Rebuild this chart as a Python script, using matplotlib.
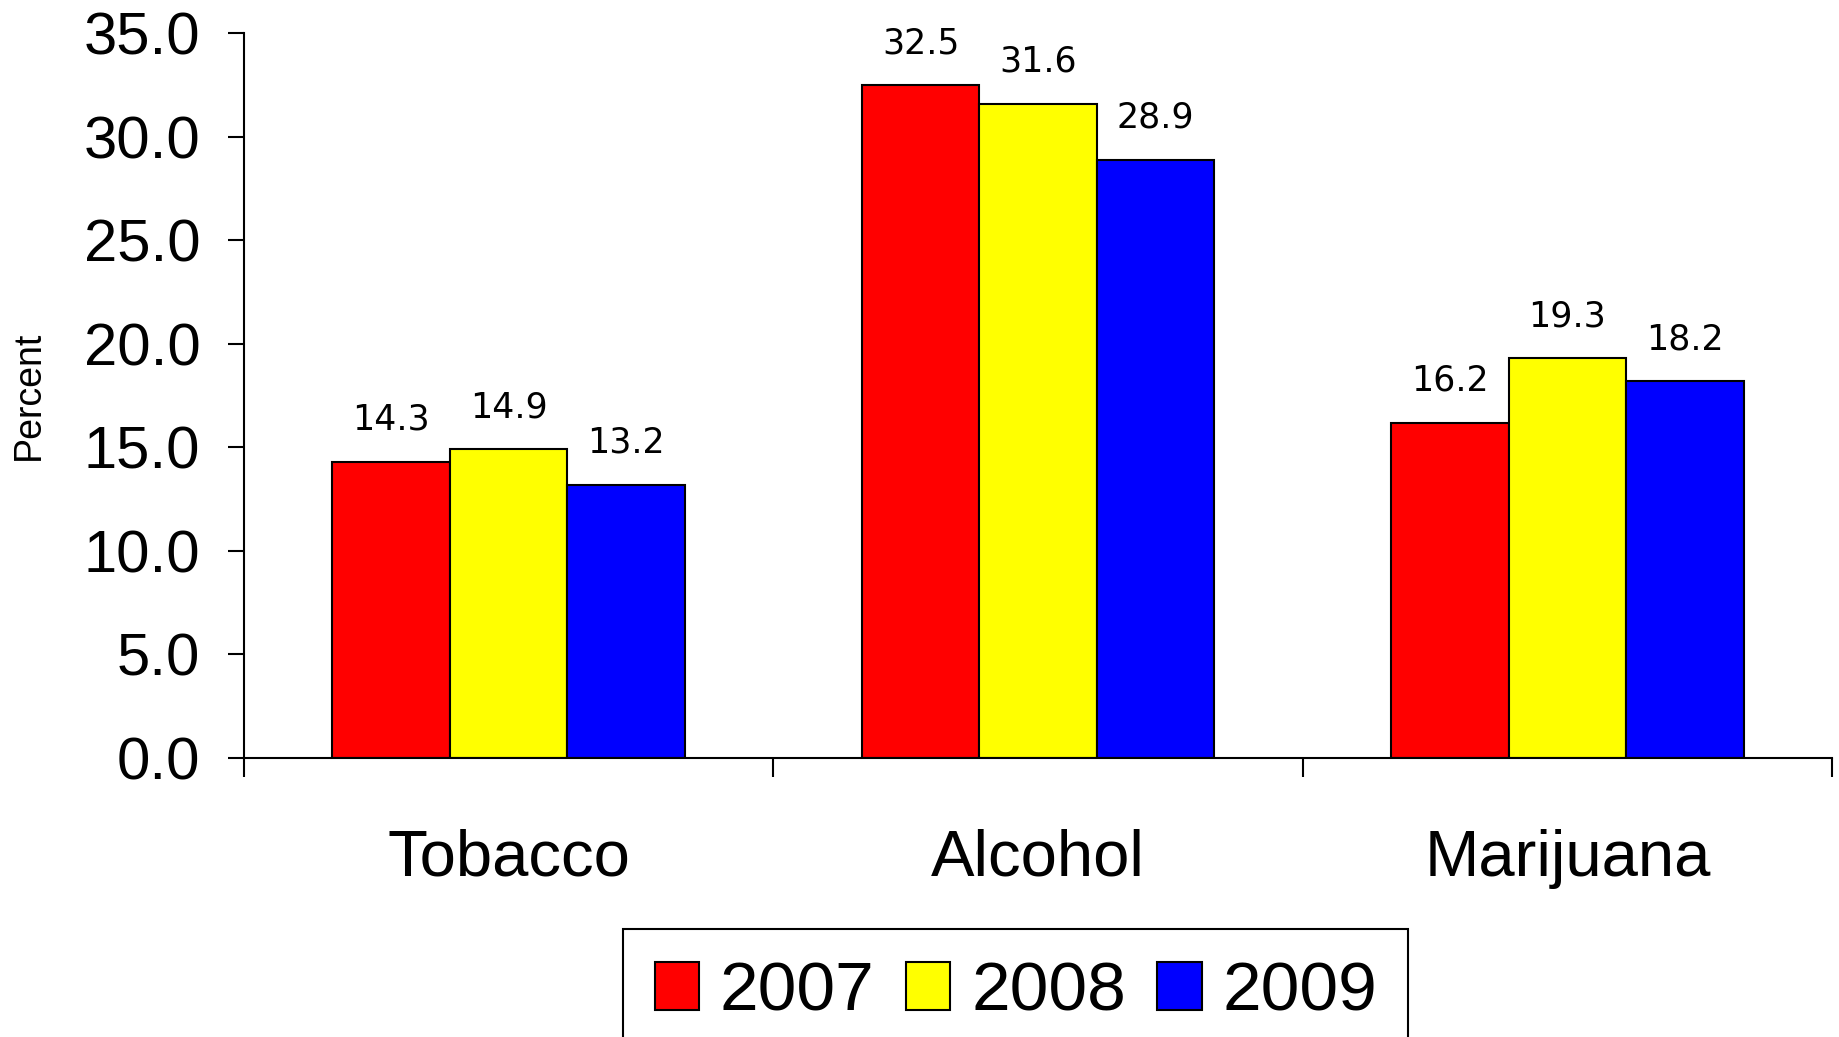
import matplotlib.pyplot as plt
import numpy as np

categories = ['Tobacco', 'Alcohol', 'Marijuana']
years = ['2007', '2008', '2009']
v2007 = [14.3, 32.5, 16.2]
v2008 = [14.9, 31.6, 19.3]
v2009 = [13.2, 28.9, 18.2]
colors = ['#ff0000', '#ffff00', '#0000ff']

fig = plt.figure(figsize=(18.39, 10.37), dpi=100)
ax = fig.add_axes([0.1327, 0.269, 0.8635, 0.699])

x = np.arange(len(categories))
w = 0.222
for i, (vals, yr, c) in enumerate(zip([v2007, v2008, v2009], years, colors)):
    bars = ax.bar(x + (i - 1) * w, vals, w, color=c, edgecolor='black',
                  linewidth=1.5, label=yr, zorder=2)
    for b, v in zip(bars, vals):
        ax.annotate('%.1f' % v, (b.get_x() + b.get_width() / 2, v),
                    xytext=(0, 23), textcoords='offset points',
                    ha='center', va='baseline', fontsize=25,
                    family='DejaVu Sans')

ax.set_xlim(-0.5, 2.5)
ax.set_ylim(0, 35)
ax.set_yticks(np.arange(0, 36, 5))
ax.set_yticklabels(['%.1f' % t for t in np.arange(0, 36, 5)],
                   family='Liberation Sans', fontsize=43)
ax.tick_params(axis='y', length=11.5, width=1.5, pad=20)

# boundaries as major ticks, category names as minor ticks
ax.set_xticks([-0.5, 0.5, 1.5, 2.5])
ax.set_xticklabels([])
ax.tick_params(axis='x', which='major', length=14, width=1.5)
ax.set_xticks(x, minor=True)
ax.set_xticklabels(categories, minor=True, family='Liberation Sans', fontsize=47)
ax.tick_params(axis='x', which='minor', length=0, pad=51)

for s in ['top', 'right']:
    ax.spines[s].set_visible(False)
for s in ['left', 'bottom']:
    ax.spines[s].set_linewidth(1.5)

ax.set_ylabel('Percent', family='Liberation Sans', fontsize=27)
ax.yaxis.set_label_coords(-0.124, 0.5)

leg = fig.legend(loc='upper center', bbox_to_anchor=(0.5524, 0.104), ncol=3,
                 prop={'family': 'Liberation Sans', 'size': 50},
                 handlelength=0.64, handleheight=0.68, handletextpad=0.3,
                 columnspacing=0.45, borderpad=0.45, borderaxespad=0,
                 fancybox=False, edgecolor='black', framealpha=1)
leg.get_frame().set_linewidth(1.5)

fig.savefig('out.png', dpi=100)
